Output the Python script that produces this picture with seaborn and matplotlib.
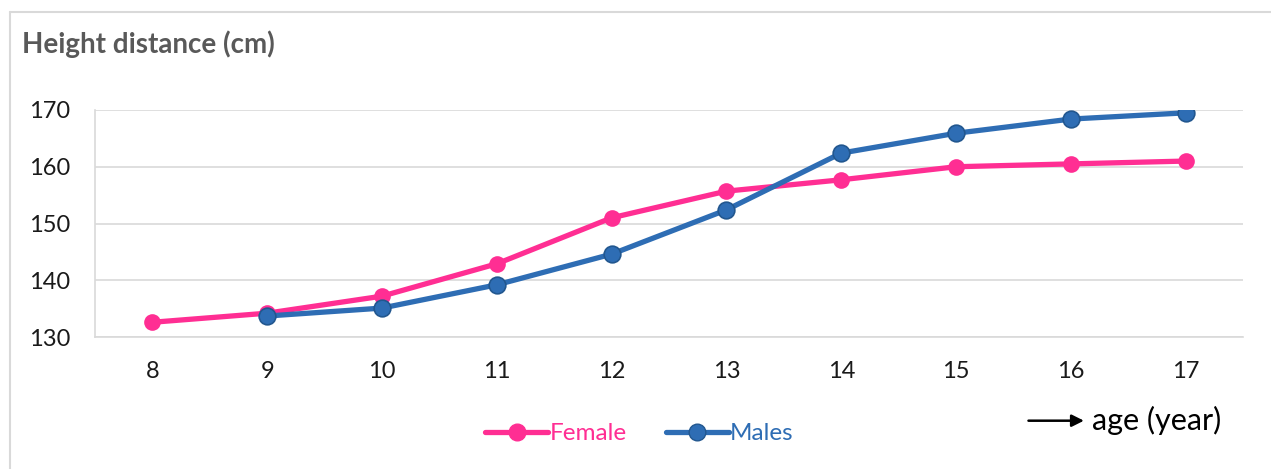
import numpy as np
import pandas as pd
import seaborn as sns
import matplotlib.pyplot as plt
from matplotlib.lines import Line2D

# --- data ---
ages = [8, 9, 10, 11, 12, 13, 14, 15, 16, 17]
female = [132.6, 134.2, 137.2, 142.9, 151.0, 155.7, 157.7, 160.0, 160.5, 161.0]
males = [np.nan, 133.7, 135.1, 139.2, 144.6, 152.4, 162.4, 165.9, 168.4, 169.5]
y_ticks = [130, 140, 150, 160, 170]

pink = "#FF2E93"
blue = "#2E6DB4"

df = pd.DataFrame({
    "age": ages * 2,
    "height": female + males,
    "sex": ["Female"] * len(ages) + ["Males"] * len(ages),
}).dropna()

sns.set_style("white")
plt.rcParams["font.family"] = ["Lato", "DejaVu Sans"]

fig = plt.figure(figsize=(12.71, 4.69), dpi=100)
ax = fig.add_axes([0.0747, 0.2814, 0.9033, 0.4841])

sns.lineplot(
    data=df, x="age", y="height", hue="sex",
    palette={"Female": pink, "Males": blue},
    marker="o", markersize=12, linewidth=3.8,
    markeredgewidth=0, legend=False, ax=ax,
)
# darker rim on the blue markers
for line in ax.get_lines():
    if line.get_color() == blue:
        line.set_markeredgecolor("#22578f")
        line.set_markeredgewidth(1.2)

ax.set_xlim(7.5, 17.5)
ax.set_ylim(130, 170)
ax.set_xticks(ages)
ax.set_yticks(y_ticks)
ax.yaxis.grid(True, color="#d9d9d9", linewidth=1.2)
ax.set_axisbelow(True)
for side in ["top", "right"]:
    ax.spines[side].set_visible(False)
for side in ["left", "bottom"]:
    ax.spines[side].set_color("#d9d9d9")
    ax.spines[side].set_linewidth(1.2)
ax.tick_params(axis="both", length=0, labelsize=17, colors="#1a1a1a")
ax.tick_params(axis="x", pad=17)
ax.tick_params(axis="y", pad=18)
ax.set_xlabel("")
ax.set_ylabel("")

fig.text(0.017, 0.888, "Height distance (cm)", fontsize=20, fontweight="bold", color="#595959")

handles = [
    Line2D([], [], color=pink, linewidth=3.8, marker="o", markersize=12),
    Line2D([], [], color=blue, linewidth=3.8, marker="o", markersize=12,
           markeredgecolor="#22578f"),
]
leg = fig.legend(handles, ["Female", "Males"], loc="center", bbox_to_anchor=(0.503, 0.075),
                 ncol=2, frameon=False, fontsize=17.5, handlelength=2.6, handletextpad=0.05,
                 columnspacing=1.6, labelcolor=[pink, blue])

# axis caption with arrow
fig.add_artist(plt.Annotation("", xy=(0.855, 0.103), xytext=(0.807, 0.103),
                              xycoords="figure fraction",
                              arrowprops=dict(arrowstyle="-|>", color="black", lw=1.8,
                                              mutation_scale=18)))
fig.text(0.859, 0.103, "age (year)", fontsize=22, color="black", va="center")

# outer frame (top and left edges visible)
fig.add_artist(Line2D([0.008, 1.0], [0.974, 0.974], color="#d9d9d9", linewidth=1.5))
fig.add_artist(Line2D([0.008, 0.008], [0.0, 0.974], color="#d9d9d9", linewidth=1.5))

fig.savefig("out.png", dpi=100)
